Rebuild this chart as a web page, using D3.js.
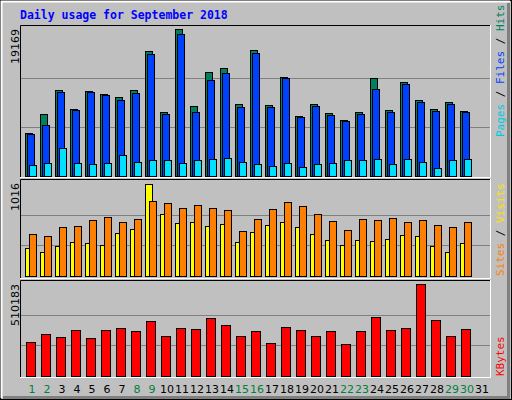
<!DOCTYPE html><html><head><meta charset="utf-8">
<script src="https://cdn.jsdelivr.net/npm/d3@7"></script>
<style>body{margin:0;background:#fff}</style></head><body><svg id="c" width="512" height="400"></svg>
<script>
const days = d3.range(1,32);
const weekend = [1,2,8,9,15,16,22,23,29,30];
const hits  = [5568,8046,11214,8737,11084,10654,10262,11214,16261,8306,19169,9089,13522,14044,9350,16391,9219,12870,7785,9350,8176,7263,8306,12740,8567,12218,9871,8698,9610,8437];
const files = [5438,6611,10914,8567,10914,10523,9871,10784,15870,8046,18478,8306,12479,13392,8958,16000,8958,12740,7654,9089,7915,7133,8046,11306,8306,11958,9610,8437,9350,8306];
const pages = [1434,1656,3612,1656,1526,1656,2699,1786,2047,2047,1656,2047,2178,2308,1786,1526,1265,1656,1134,1526,1656,2047,2047,2178,1526,2178,1786,1004,2047,2178];
const visits= [306,262,328,372,361,339,471,516,1016,681,582,593,549,571,372,482,560,593,538,460,394,339,394,383,405,449,438,328,262,361];
const sites = [460,438,538,549,615,648,593,626,825,803,747,781,747,725,493,626,736,814,769,681,604,505,626,615,637,593,615,560,538,593];
const kbytes= [185838,230350,213658,252606,208094,252606,263734,247042,302682,219222,263734,258170,319374,280426,219222,247042,180274,269298,252606,219222,247042,174710,247042,324938,252606,263734,510183,308246,219222,258170];
const maxLabels = ["19169","1016","510183"];

const svg=d3.select("#c");
svg.append("rect").attr("width",512).attr("height",400).attr("fill","#C0C0C0");
// 3D frame
svg.append("rect").attr("x",0.5).attr("y",0.5).attr("width",511).attr("height",399).attr("fill","none").attr("stroke","#000");
svg.append("path").attr("d","M1.5,398V1.5H510").attr("stroke","#fff").attr("stroke-width",2).attr("fill","none");
svg.append("path").attr("d","M508.5,3V397.5H3").attr("stroke","#808080").attr("stroke-width",3).attr("fill","none");

svg.append("text").attr("x",20).attr("y",19).text("Daily usage for September 2018")
 .attr("font-family","DejaVu Sans Mono").attr("font-weight","bold").attr("font-size",11.5).attr("fill","#0000FF");

const x=d3.scaleLinear().domain([1,31]).range([25,475]);
const panels=[{top:25,bot:177,base:176,h:147,max:19169},{top:179,bot:278,base:276,h:92,max:1016},{top:280,bot:377,base:376,h:92,max:510183}];
panels.forEach((p,i)=>{
  const g=svg.append("g");
  const y=d3.scaleLinear().domain([0,p.max]).range([p.base,p.base-p.h]);
  [1/3,2/3].forEach(f=>g.append("line").attr("x1",21).attr("x2",490).attr("y1",Math.round(y(p.max*f))+0.5).attr("y2",Math.round(y(p.max*f))+0.5).attr("stroke","#808080"));
  g.append("path").attr("d",`M20.5,${p.bot}V${p.top+0.5}H490`).attr("stroke","#000").attr("fill","none");
  g.append("path").attr("d",`M490.5,${p.top}V${p.bot+0.5}H20`).attr("stroke","#fff").attr("fill","none");
  g.append("text").attr("transform",`translate(19,${p.top+4}) rotate(-90)`).attr("text-anchor","end")
   .attr("font-family","DejaVu Sans").attr("font-size",11).attr("fill","#000").text(maxLabels[i]);
  p.y=y;
});
function bars(data,panel,dx,w,color){
  const y=panels[panel].y;
  svg.append("g").selectAll("rect").data(data).join("rect")
   .attr("x",(d,i)=>x(i+1)+dx+0.5).attr("width",w).attr("y",d=>Math.round(y(d))+0.5).attr("height",d=>panels[panel].base-Math.round(y(d)))
   .attr("fill",color).attr("stroke","#000");
}
bars(hits,0,0,7,"#00805C");
bars(files,0,2,7,"#0040FF");
bars(pages,0,4,7,"#00E0FF");
bars(visits,1,0,7,"#FFFF00");
bars(sites,1,4,7,"#FF8000");
bars(kbytes,2,1,9,"#FF0000");

svg.append("g").selectAll("text").data(days).join("text")
 .attr("x",d=>x(d)+7).attr("y",393).attr("text-anchor","middle").attr("font-family","DejaVu Sans").attr("font-size",11)
 .attr("fill",d=>weekend.includes(d)?"#008040":"#000").text(d=>d);

function legend(parts,yEnd){
  const t=svg.append("text").attr("transform",`translate(504,${yEnd}) rotate(-90)`)
   .attr("font-family","DejaVu Sans Mono").attr("font-size",11);
  parts.forEach(([s,c])=>t.append("tspan").attr("fill",c).text(s));
}
legend([["Pages","#00C8E0"],[" / ","#000"],["Files","#0040FF"],[" / ","#000"],["Hits","#00805C"]],137);
legend([["Sites","#FF8000"],[" / ","#000"],["Visits","#FFE000"]],276);
legend([["KBytes","#FF0000"]],376);
</script></body></html>
